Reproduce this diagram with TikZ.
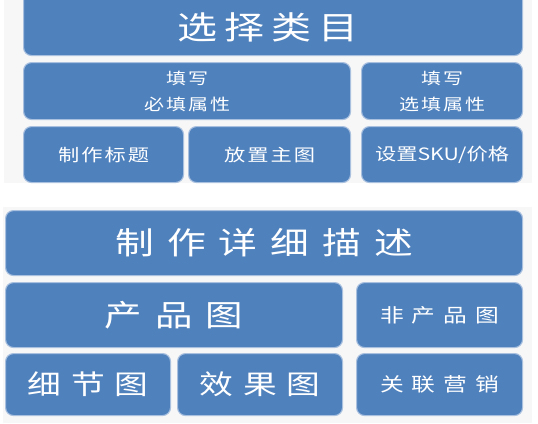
\documentclass[tikz,border=0pt]{standalone}
\usepackage{fontspec}
\newfontfamily\cjk[FakeStretch=1.25]{Noto Sans CJK SC}
\definecolor{boxblue}{HTML}{4F81BD}
\definecolor{boxedge}{HTML}{A9C0DF}
\definecolor{panel}{HTML}{F7F7F7}
\tikzset{
  cell/.style={draw=boxedge, line width=1.1pt, fill=boxblue, rounded corners=8pt,
    text=white, inner sep=0pt, anchor=north west, align=center},
  panelbg/.style={fill=panel, draw=none}
}
\newcommand\cellat[7]{% name, x1, y1, x2, y2, font size, text
  \node[cell, font=\cjk\fontsize{#6}{26}\selectfont, minimum width={(#4-#2)*1pt}, minimum height={(#5-#3)*1pt}] (#1) at (#2,#3) {#7};}
\begin{document}
\begin{tikzpicture}[x=1pt,y=-1pt]
\useasboundingbox (0,0) rectangle (538,423);
\clip (0,0) rectangle (538,423);
\fill[white] (0,0) rectangle (538,423);
% panels
\node[panelbg, anchor=north west, minimum width=528pt, minimum height=183pt, inner sep=0pt] (p1) at (4,0) {};
\node[panelbg, anchor=north west, minimum width=529pt, minimum height=216pt, inner sep=0pt] (p2) at (3,207) {};
% top group
\cellat{t0}{23}{-10}{522}{55}{32}{}
\node[text=white, font=\cjk\fontsize{32}{32}\selectfont] (t0t) at (268,27) {选\kern7pt 择\kern7pt 类\kern7pt 目};
\cellat{t1}{23}{62}{350}{119}{16}{填\kern2pt 写\\必\kern2pt 填\kern2pt 属\kern2pt 性}
\cellat{t2}{361}{62}{522}{119}{16}{填\kern2pt 写\\选\kern2pt 填\kern2pt 属\kern2pt 性}
\cellat{t3}{23}{126}{183}{182}{17}{制\kern2pt 作\kern2pt 标\kern2pt 题}
\cellat{t4}{188}{126}{350}{182}{17}{放\kern2pt 置\kern2pt 主\kern2pt 图}
\cellat{t5}{361}{126}{522}{182}{17}{设置SKU/价格}
% bottom group
\cellat{b0}{5}{210}{522}{275}{31}{制\kern13pt 作\kern13pt 详\kern13pt 细\kern13pt 描\kern13pt 述}
\cellat{b1}{5}{282}{342}{347}{30}{产\kern13pt 品\kern13pt 图}
\cellat{b2}{356}{282}{522}{347}{19}{非\kern8pt 产\kern8pt 品\kern8pt 图}
\cellat{b3}{5}{353}{170}{415}{27}{细\kern10pt 节\kern10pt 图}
\cellat{b4}{177}{353}{342}{415}{27}{效\kern10pt 果\kern10pt 图}
\cellat{b5}{356}{353}{522}{415}{19}{关\kern8pt 联\kern8pt 营\kern8pt 销}
\end{tikzpicture}
\end{document}
